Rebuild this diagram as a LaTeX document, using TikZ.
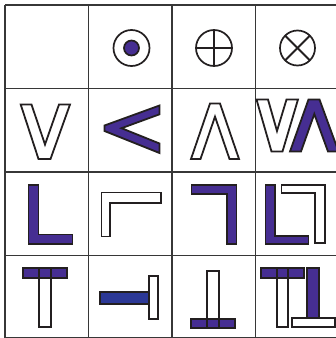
\documentclass[tikz,border=0pt]{standalone}
\definecolor{pur}{RGB}{70,46,146}
\definecolor{blu}{RGB}{44,56,150}
\definecolor{ink}{RGB}{35,31,32}
\definecolor{gridc}{RGB}{55,55,55}
\begin{document}
\begin{tikzpicture}[x=1pt,y=-1pt,
  gridline/.style={draw=gridc,line width=1.5pt},
  wshape/.style={draw=ink,fill=white,line width=1.8pt,line join=miter},
  pshape/.style={draw=ink,fill=pur,line width=1.8pt,line join=miter},
  bshape/.style={draw=ink,fill=blu,line width=1.8pt},
  oline/.style={draw=ink,line width=1.8pt},
  ring/.style={draw=ink,line width=1.7pt}]
\useasboundingbox (0,0) rectangle (336,338);
\fill[white] (0,0) rectangle (336,338);
% grid
\foreach \x in {5,88.5,172,255.5,339} \draw[gridline] (\x,5) -- (\x,337.5);
\foreach \y in {5,88.5,172,255.5,337.5} \draw[gridline] (5,\y) -- (339,\y);
% row 1
\draw[ring] (131.5,48) circle[radius=18];
\draw[ring,fill=pur] (131.5,48) circle[radius=7.5];
\draw[ring] (214,48) circle[radius=18];
\draw[oline] (196,48) -- (232,48) (214,30) -- (214,66);
\draw[ring] (297.5,48) circle[radius=17.5];
\draw[oline] (297.5,48) ++(45:17.5) -- ++(225:35);
\draw[oline] (297.5,48) ++(135:17.5) -- ++(315:35);
% row 2
\draw[wshape] (20.7,104.5) -- (31.5,104.5) -- (45,144.5) -- (59,104.5) -- (70,104.5) -- (50.5,159) -- (38.5,159) -- cycle;
\draw[pshape] (159.5,105.5) -- (104.5,125.5) -- (104.5,131) -- (159.5,153) -- (159.5,143.5) -- (121.5,128.2) -- (159.5,114.3) -- cycle;
\draw[wshape] (210,103.5) -- (220,103.5) -- (239,159) -- (229.5,159) -- (215,116.6) -- (200.5,159) -- (191,159) -- cycle;
\draw[wshape] (256.5,99.5) -- (268,99.5) -- (277,131) -- (286.5,99.5) -- (298,99.5) -- (282.5,151.5) -- (271.5,151.5) -- cycle;
\draw[pshape] (308.5,99.5) -- (319.5,99.5) -- (338.5,151.5) -- (328,151.5) -- (314.3,114) -- (301,151.5) -- (290,151.5) -- cycle;
% row 3
\draw[pshape] (28.5,185) -- (38.5,185) -- (38.5,234.5) -- (72.5,234.5) -- (72.5,244) -- (28.5,244) -- cycle;
\draw[wshape] (101.5,192.5) -- (161,192.5) -- (161,203) -- (110,203) -- (110,236.5) -- (101.5,236.5) -- cycle;
\draw[pshape] (191.5,185) -- (236.5,185) -- (236.5,244) -- (227,244) -- (227,194) -- (191.5,194) -- cycle;
\draw[pshape] (265.5,185) -- (275,185) -- (275,236) -- (308.5,236) -- (308.5,244) -- (265.5,244) -- cycle;
\draw[wshape] (281.5,185) -- (325,185) -- (325,243) -- (315,243) -- (315,193) -- (281.5,193) -- cycle;
% row 4
\draw[wshape] (39,268.3) rectangle (51,326.7);
\draw[pshape] (22.7,268.3) rectangle (66.7,278.3);
\draw[oline] (39,268.3) rectangle (51,326.7);
\draw[bshape] (100,291.7) rectangle (149,304);
\draw[wshape] (149,275.7) rectangle (158.3,319.3);
\draw[wshape] (206.7,270.7) rectangle (219,327.5);
\draw[pshape] (191,319) rectangle (235,328.3);
\draw[oline] (206.7,270.7) rectangle (219,327.5);
\draw[wshape] (276.7,268.3) rectangle (288.3,326.7);
\draw[pshape] (260.7,268.3) rectangle (304.3,278.3);
\draw[oline] (276.7,268.3) rectangle (288.3,326.7);
\draw[pshape] (307.3,268.3) rectangle (319.3,317.7);
\draw[wshape] (291.7,317.7) rectangle (335,326.7);
\end{tikzpicture}
\end{document}
